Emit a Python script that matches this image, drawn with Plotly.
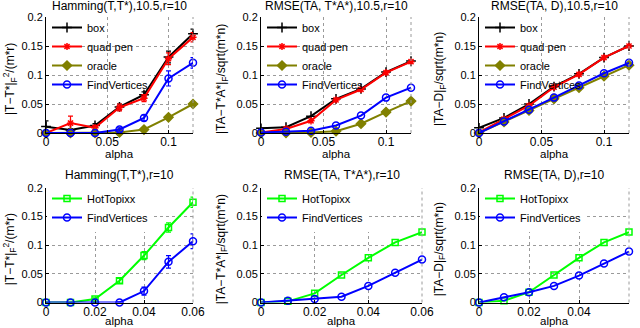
import plotly.graph_objects as go

W, H = 640, 328

# ---------------- data ----------------
alpha_top = [0, 0.02, 0.04, 0.06, 0.08, 0.10, 0.12]
alpha_bot = [0, 0.01, 0.02, 0.03, 0.04, 0.05, 0.06]

# Panel 1: Hamming(T,T*)
ham_box = [0.011, 0.005, 0.013, 0.045, 0.066, 0.131, 0.171]
ham_box_err = [0.010, 0.002, 0.003, 0.005, 0.005, 0.010, 0.008]
ham_quad = [0.0, 0.017, 0.009, 0.044, 0.060, 0.128, 0.165]
ham_quad_err = [0.002, 0.012, 0.004, 0.006, 0.006, 0.010, 0.008]
ham_oracle = [0.0, 0.0, 0.0, 0.001, 0.006, 0.027, 0.050]
ham_oracle_err = [0, 0, 0, 0.001, 0.002, 0.003, 0.003]
ham_fv = [0.0, 0.0, 0.0, 0.006, 0.026, 0.094, 0.121]
ham_fv_err = [0, 0, 0, 0.003, 0.005, 0.013, 0.009]

# Panel 2: RMSE(TA, T*A*)
rta_box = [0.008, 0.010, 0.029, 0.059, 0.076, 0.105, 0.124]
rta_quad = [0.001, 0.007, 0.021, 0.057, 0.075, 0.104, 0.123]
rta_oracle = [0.0, 0.0, 0.001, 0.003, 0.016, 0.036, 0.055]
rta_fv = [0.001, 0.002, 0.004, 0.013, 0.030, 0.061, 0.078]

# Panel 3: RMSE(TA, D)
rd_box = [0.009, 0.026, 0.050, 0.080, 0.102, 0.130, 0.150]
rd_quad = [0.001, 0.024, 0.047, 0.079, 0.101, 0.130, 0.150]
rd_oracle = [0.0, 0.019, 0.039, 0.059, 0.078, 0.098, 0.117]
rd_fv = [0.0, 0.020, 0.040, 0.061, 0.082, 0.103, 0.121]

# Panel 4: Hamming(T,T*), r=10
h2_ht = [0.0, 0.0, 0.006, 0.038, 0.082, 0.131, 0.175]
h2_ht_err = [0, 0, 0.002, 0.004, 0.007, 0.008, 0.009]
h2_fv = [0.0, 0.0, 0.0, 0.0, 0.020, 0.071, 0.107]
h2_fv_err = [0, 0, 0, 0.001, 0.007, 0.011, 0.013]

# Panel 5: RMSE(TA, T*A*), r=10
r2_ht = [0.0, 0.002, 0.016, 0.048, 0.078, 0.105, 0.123]
r2_fv = [0.0, 0.003, 0.006, 0.010, 0.029, 0.052, 0.075]

# Panel 6: RMSE(TA, D), r=10
d2_ht = [0.0, 0.003, 0.018, 0.048, 0.078, 0.105, 0.123]
d2_fv = [0.0, 0.009, 0.018, 0.029, 0.047, 0.068, 0.089]

titles = ["Hamming(T,T*),10.5,r=10", "RMSE(TA, T*A*),10.5,r=10", "RMSE(TA, D),10.5,r=10",
          "Hamming(T,T*),r=10", "RMSE(TA, T*A*),r=10", "RMSE(TA, D),r=10"]
ylabels = ["|T\u2212T*|<sub>F</sub><sup>2</sup>/(m*r)",
           "|TA\u2212T*A*|<sub>F</sub>/sqrt(m*n)",
           "|TA\u2212D|<sub>F</sub>/sqrt(m*n)"]
yticks = [0, 0.05, 0.1, 0.15, 0.2]
yticktext = ["0", "0.05", "0.1", "0.15", "0.2"]
xticks_top = [0, 0.05, 0.1]
xticktext_top = ["0", "0.05", "0.1"]
xticks_bot = [0, 0.02, 0.04, 0.06]
xticktext_bot = ["0", "0.02", "0.04", "0.06"]

# ---------------- styles ----------------
FONT = "Liberation Sans, Arial, Helvetica, sans-serif"
BLACK, RED, OLIVE, BLUE, GREEN = "#000000", "#ff0000", "#808000", "#0000ff", "#00ff00"

styles = {
    "box": dict(color=BLACK, symbol="cross-thin-open", size=7),
    "quad pen": dict(color=RED, symbol="asterisk-open", size=6),
    "oracle": dict(color=OLIVE, symbol="diamond", size=7),
    "FindVertices": dict(color=BLUE, symbol="circle-open", size=7),
    "HotTopixx": dict(color=GREEN, symbol="square-open", size=6),
}

def px_x(p):
    return p / W

def px_y(p):
    return 1 - p / H

xdoms = [(46, 193), (261, 411), (479, 629), (46, 193), (261, 422), (479, 629)]
ydoms = [(17, 133)] * 3 + [(188, 302.5)] * 3

fig = go.Figure()
layout = dict(width=W, height=H, margin=dict(l=0, r=0, t=0, b=0, pad=0, autoexpand=False),
              paper_bgcolor="white", plot_bgcolor="white",
              font=dict(family=FONT, size=11, color="black"))

def add(panel, name, x, y, err=None):
    st = styles[name]
    ax = "" if panel == 1 else str(panel)
    tr = go.Scatter(
        x=x, y=y, name=name, mode="lines+markers",
        line=dict(color=st["color"], width=2),
        marker=dict(symbol=st["symbol"], size=st["size"], color=st["color"],
                    line=dict(color=st["color"], width=1.5)),
        xaxis="x" + ax, yaxis="y" + ax,
        legend="legend" + ax,
        cliponaxis=False,
    )
    if err is not None:
        tr.error_y = dict(type="data", array=err, visible=True, color=st["color"],
                          thickness=1.2, width=2.5)
    fig.add_trace(tr)

add(1, "box", alpha_top, ham_box, ham_box_err)
add(1, "quad pen", alpha_top, ham_quad, ham_quad_err)
add(1, "oracle", alpha_top, ham_oracle, ham_oracle_err)
add(1, "FindVertices", alpha_top, ham_fv, ham_fv_err)

add(2, "box", alpha_top, rta_box)
add(2, "quad pen", alpha_top, rta_quad)
add(2, "oracle", alpha_top, rta_oracle)
add(2, "FindVertices", alpha_top, rta_fv)

add(3, "box", alpha_top, rd_box)
add(3, "quad pen", alpha_top, rd_quad)
add(3, "oracle", alpha_top, rd_oracle)
add(3, "FindVertices", alpha_top, rd_fv)

add(4, "HotTopixx", alpha_bot, h2_ht, h2_ht_err)
add(4, "FindVertices", alpha_bot, h2_fv, h2_fv_err)

add(5, "HotTopixx", alpha_bot, r2_ht)
add(5, "FindVertices", alpha_bot, r2_fv)

add(6, "HotTopixx", alpha_bot, d2_ht)
add(6, "FindVertices", alpha_bot, d2_fv)

annotations = []
shapes = []
legend_pos = [(47, 13), (262, 13), (480, 13), (47, 184), (262, 184), (480, 184)]
CLEAR = "rgba(255,255,255,0)"
legend_bg = [CLEAR, CLEAR, CLEAR, "white", "white", "white"]

for i in range(6):
    n = i + 1
    ax = "" if n == 1 else str(n)
    top = i < 3
    xd = xdoms[i]
    yd = ydoms[i]
    layout["xaxis" + ax] = dict(
        domain=[px_x(xd[0]), px_x(xd[1])],
        range=[0, 0.12] if top else [0, 0.06],
        tickvals=xticks_top if top else xticks_bot,
        ticktext=xticktext_top if top else xticktext_bot,
        showline=True, linecolor="black", linewidth=1,
        showgrid=True, gridcolor="#9a9a9a", griddash="dot", gridwidth=1,
        zeroline=False, ticks="inside", ticklen=3, tickcolor="black",
        tickfont=dict(size=12), ticklabelstandoff=-2,
        anchor="y" + ax, fixedrange=True, automargin=False,
    )
    layout["yaxis" + ax] = dict(
        domain=[px_y(yd[1]), px_y(yd[0])],
        range=[0, 0.2],
        tickvals=yticks, ticktext=yticktext,
        showline=True, linecolor="black", linewidth=1,
        showgrid=True, gridcolor="#9a9a9a", griddash="dot", gridwidth=1,
        zeroline=False, ticks="inside", ticklen=3, tickcolor="black",
        tickfont=dict(size=11), anchor="x" + ax, fixedrange=True, automargin=False,
    )
    shapes.append(dict(type="line", xref="x" + ax + " domain", yref="y" + ax + " domain",
                       x0=1, x1=1, y0=0, y1=1,
                       line=dict(color="#9a9a9a", width=1, dash="dot")))
    cx = (xd[0] + xd[1]) / 2
    annotations.append(dict(text=titles[i], x=px_x(cx), y=px_y(6 if top else 175),
                            xref="paper", yref="paper", showarrow=False,
                            xanchor="center", yanchor="middle", font=dict(size=12)))
    annotations.append(dict(text="alpha", x=px_x(cx), y=px_y(154 if top else 321),
                            xref="paper", yref="paper", showarrow=False,
                            xanchor="center", yanchor="middle", font=dict(size=11.5)))
    ylx = [10, 222, 440][i % 3]
    annotations.append(dict(text=ylabels[i % 3], x=px_x(ylx),
                            y=px_y((yd[0] + yd[1]) / 2 + 4),
                            xref="paper", yref="paper", showarrow=False, textangle=-90,
                            xanchor="center", yanchor="middle", font=dict(size=12)))
    lp = legend_pos[i]
    layout["legend" + ax] = dict(x=px_x(lp[0]), y=px_y(lp[1]), xanchor="left", yanchor="top",
                                 bgcolor=legend_bg[i], borderwidth=0, itemwidth=30,
                                 font=dict(size=11), tracegroupgap=0,
                                 itemclick=False, itemdoubleclick=False)

layout["annotations"] = annotations
layout["shapes"] = shapes
layout["showlegend"] = True
layout["hovermode"] = False
fig.update_layout(**layout)

# remove the browser's default 8px body margin so the figure fills the window
fig.write_html("out.html", config={"displayModeBar": False},
               post_script="document.body.style.margin='0';")
